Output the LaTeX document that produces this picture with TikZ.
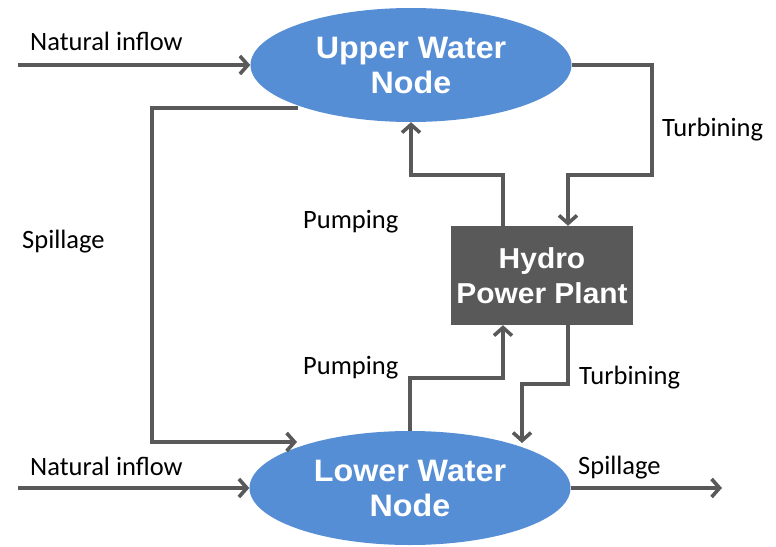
\documentclass[tikz,border=0pt]{standalone}
\usepackage{fontspec}
\setmainfont{Carlito}
\newfontfamily\nodefont[FakeStretch=1.04]{Liberation Sans}
\usetikzlibrary{shapes.geometric, arrows.meta}
\definecolor{water}{HTML}{558ED5}
\definecolor{plantgray}{HTML}{595959}

\begin{document}
\begin{tikzpicture}[x=1pt, y=-1pt,
    waternode/.style={ellipse, fill=water, minimum width=321pt, minimum height=114pt, inner sep=0pt, align=center, text=white, font=\nodefont\bfseries\fontsize{31}{35}\selectfont},
    plantbox/.style={rectangle, fill=plantgray, minimum width=182pt, minimum height=99pt, inner sep=0pt, align=center, text=white, font=\nodefont\bfseries\fontsize{28.8}{35}\selectfont},
    flow/.style={-{Straight Barb[length=8pt, width=18pt]}, line width=3.6pt, plantgray},
    lbl/.style={anchor=base west, inner sep=0pt, font=\fontsize{26.5}{30}\selectfont}
  ]

    \useasboundingbox (0,0) rectangle (776,546);

    \node[waternode] (upper) at (411,65) {Upper Water\\Node};
    \node[waternode] (lower) at (410,488) {Lower Water\\Node};
    \node[plantbox] (plant) at (542,275.5) {Hydro\\Power Plant};

    \coordinate (inflowup) at (18,65);
    \coordinate (inflowlow) at (18,488);
    \coordinate (spillout) at (298,108);
    \coordinate (spillin) at (297,442);
    \coordinate (turbin) at (522,443);
    \coordinate (spillend) at (722,488);

    \draw[flow] (inflowup) -- (upper.west);
    \draw[flow] (inflowlow) -- (lower.west);
    \draw[flow] (spillout) -- (152,108) -- (152,442) -- (spillin);
    \draw[flow] (upper.east) -- (652,65) -- (652,175) -| ([xshift=26pt]plant.north);
    \draw[flow] ([xshift=-39pt]plant.north) -- ++(0,-51) -| (upper.south);
    \draw[flow] (lower.north) -- ++(0,-53) -| ([xshift=-39pt]plant.south);
    \draw[flow] ([xshift=26pt]plant.south) -- ++(0,59) -| (turbin);
    \draw[flow] (lower.east) -- (spillend);

    \node[lbl] (natup) at (30,50) {Natural inflow};
    \node[lbl] (natlow) at (30,475) {Natural inflow};
    \node[lbl] (spillleft) at (22,248) {Spillage};
    \node[lbl] (turbup) at (662,136) {Turbining};
    \node[lbl] (pumpup) at (303,228) {Pumping};
    \node[lbl] (pumplow) at (303,374) {Pumping};
    \node[lbl] (turblow) at (579,384) {Turbining};
    \node[lbl] (spillright) at (578,474) {Spillage};

  \end{tikzpicture}
\end{document}
